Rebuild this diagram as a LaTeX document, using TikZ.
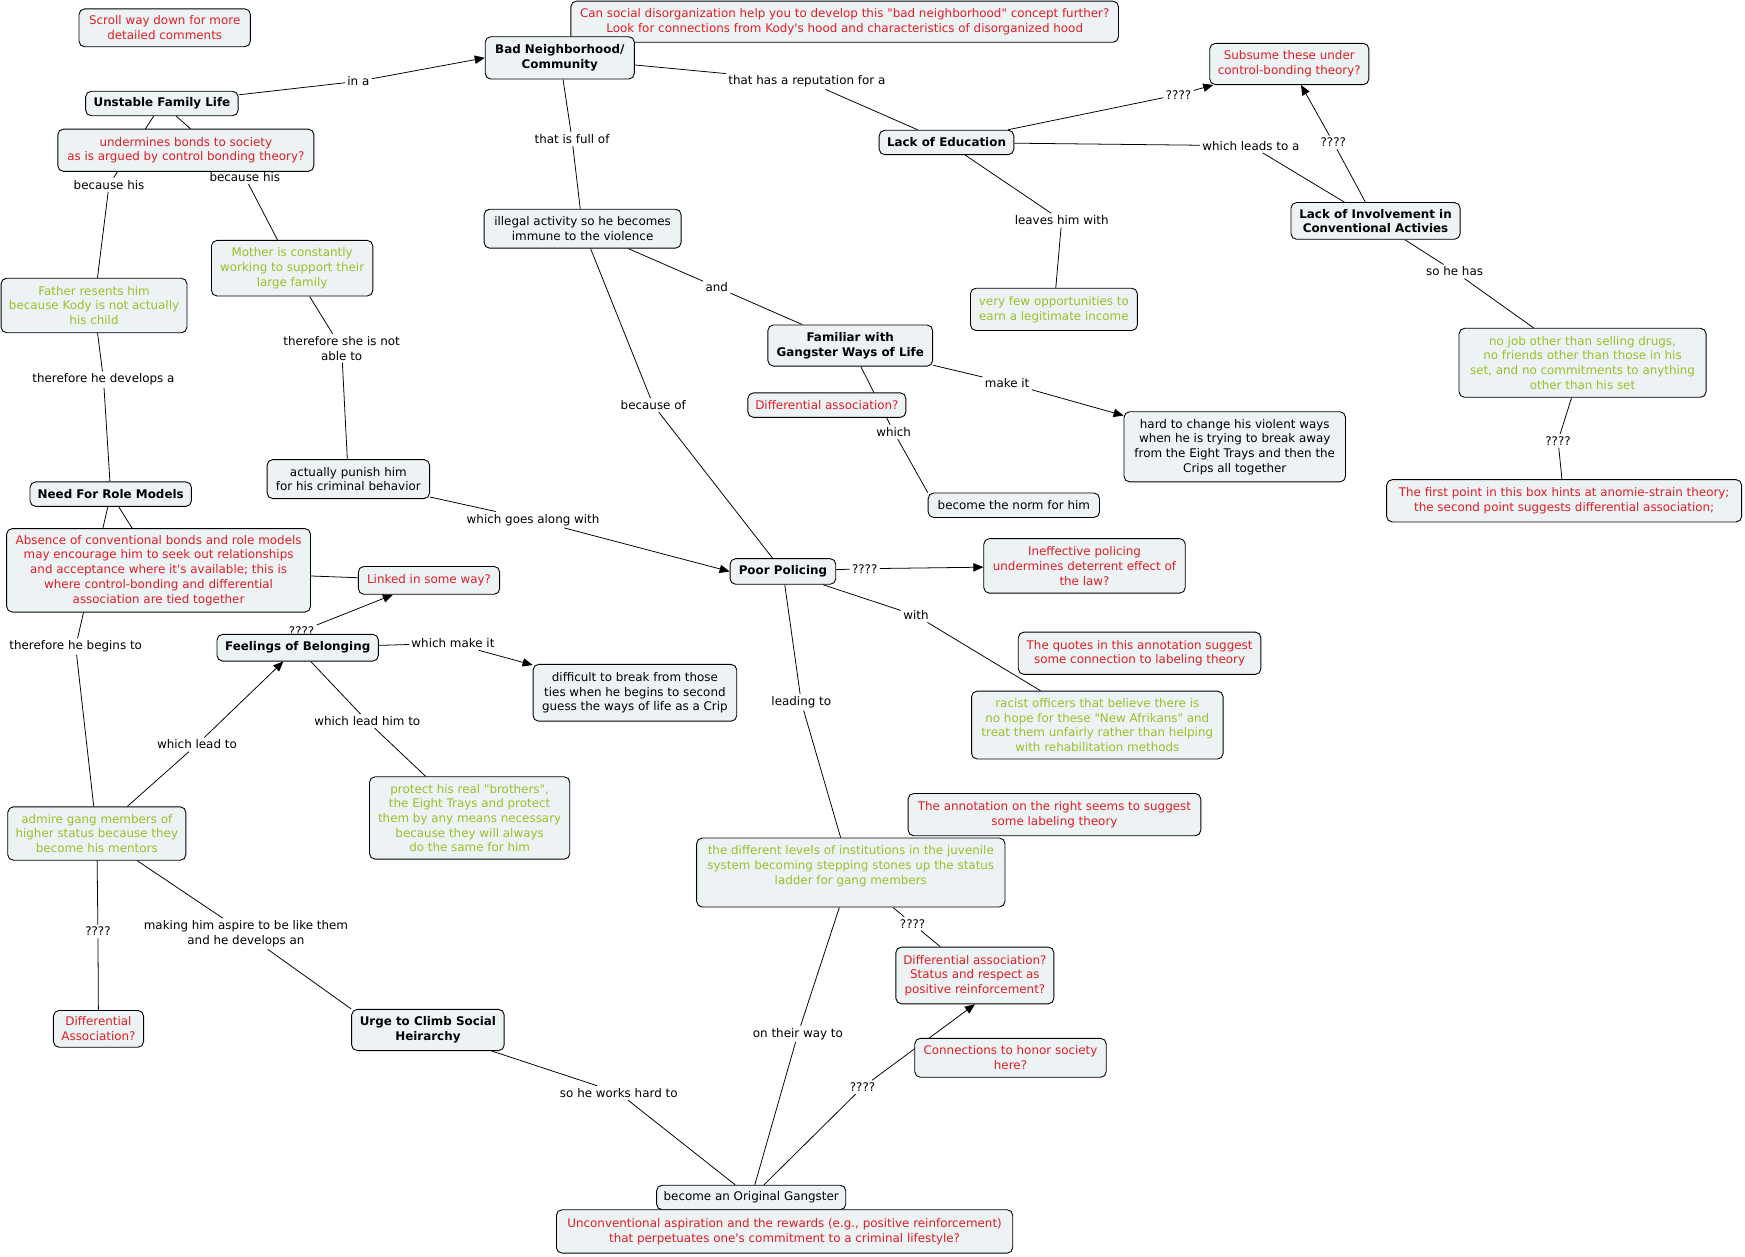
\documentclass[tikz,border=0pt]{standalone}
\usepackage{fontspec}
\setmainfont{DejaVu Sans}
\usetikzlibrary{arrows.meta,backgrounds}
\newcommand\sdq{\XeTeXglyph\XeTeXcharglyph"22\relax}
\newcommand\ssq{\XeTeXglyph\XeTeXcharglyph"27\relax}
\definecolor{boxfill}{RGB}{237,243,245}
\definecolor{cred}{RGB}{222,30,36}
\definecolor{cgreen}{RGB}{150,194,40}
\tikzset{
 cbox/.style={draw=black, line width=0.8pt, fill=boxfill, rounded corners=5pt, align=center, inner xsep=4pt, inner ysep=2pt, font=\fontsize{10.7}{13.2}\selectfont},
 concept/.style={cbox, font=\fontsize{10.7}{13.2}\selectfont\bfseries},
 rednote/.style={cbox, text=cred},
 greennote/.style={cbox, text=cgreen},
 plainbox/.style={cbox},
 lbl/.style={align=center, inner sep=2pt, font=\fontsize{10.7}{13.2}\selectfont},
 conn/.style={draw=black, line width=0.7pt},
 arr/.style={conn, -{Triangle[length=9pt,width=7.5pt]}},
}
\begin{document}
\begin{tikzpicture}[x=1pt,y=-1pt]
\useasboundingbox (0,0) rectangle (1568,1129);
% linking labels
\node[lbl] (l_ina) at (322,73) {in a};
\node[lbl] (l_rep) at (725,73) {that has a reputation for a};
\node[lbl] (l_full) at (514,125) {that is full of};
\node[lbl] (l_q1) at (1059,85) {????};
\node[lbl] (l_leads) at (1124,131) {which leads to a};
\node[lbl] (l_q2) at (1198,128) {????};
\node[lbl] (l_leaves) at (954,198) {leaves him with};
\node[lbl] (l_sohas) at (1307,244) {so he has};
\node[lbl] (l_q3) at (1400,396) {????};
\node[lbl] (l_and) at (644,258) {and};
\node[lbl] (l_becof) at (587,364) {because of};
\node[lbl] (l_make) at (905,344) {make it};
\node[lbl] (l_which) at (803,388) {which};
\node[lbl] (l_goes) at (479,467) {which goes along with};
\node[lbl] (l_q4) at (777,511) {????};
\node[lbl] (l_with) at (823,553) {with};
\node[lbl] (l_leading) at (720,631) {leading to};
\node[lbl] (l_q5) at (820,830) {????};
\node[lbl] (l_onway) at (717,929) {on their way to};
\node[lbl] (l_works) at (556,982) {so he works hard to};
\node[lbl] (l_q6) at (775,977) {????};
\node[lbl] (l_bech1) at (98,166) {because his};
\node[lbl] (l_bech2) at (220,159) {because his};
\node[lbl] (l_devel) at (93,341) {therefore he develops a};
\node[lbl] (l_notable) at (307,313) {therefore she is not\\able to};
\node[lbl] (l_begins) at (68,581) {therefore he begins to};
\node[lbl] (l_leadto) at (177,669) {which lead to};
\node[lbl] (l_leadhim) at (330,648) {which lead him to};
\node[lbl] (l_makeit) at (407,578) {which make it};
\node[lbl] (l_aspire) at (221,839) {making him aspire to be like them\\and he develops an};
\node[lbl] (l_q7) at (88,837) {????};
\node[lbl] (l_q8) at (271,567) {????};
% boxes
\node[rednote, minimum width=154pt, minimum height=34pt] (scroll) at (148,25) {Scroll way down for more\\detailed comments};
\node[rednote, minimum width=492pt, minimum height=37pt] (qtop) at (759,19.5) {Can social disorganization help you to develop this \sdq bad neighborhood\sdq{} concept further?\\Look for connections from Kody\ssq s hood and characteristics of disorganized hood};
\node[concept, minimum width=134pt, minimum height=38pt] (badn) at (503,52) {Bad Neighborhood/\\Community};
\node[concept, minimum width=137pt, minimum height=22pt] (unstable) at (145.5,93) {Unstable Family Life};
\node[rednote, minimum width=230pt, minimum height=38pt] (undermines) at (167,135) {undermines bonds to society\\as is argued by control bonding theory?};
\node[concept, minimum width=121pt, minimum height=22pt] (lackedu) at (850.5,128) {Lack of Education};
\node[rednote, minimum width=143pt, minimum height=37pt] (subsume) at (1158.5,57.5) {Subsume these under\\control-bonding theory?};
\node[concept, minimum width=152pt, minimum height=33pt] (lackinv) at (1236,198.5) {Lack of Involvement in\\Conventional Activies};
\node[plainbox, minimum width=177pt, minimum height=35pt] (illegal) at (523.5,205.5) {illegal activity so he becomes\\immune to the violence};
\node[greennote, minimum width=145pt, minimum height=50pt] (mother) at (262.5,241) {Mother is constantly\\working to support their\\large family};
\node[greennote, minimum width=167pt, minimum height=49pt] (father) at (84.5,274.5) {Father resents him\\because Kody is not actually\\his child};
\node[greennote, minimum width=150pt, minimum height=38pt] (veryfew) at (947,278) {very few opportunities to\\earn a legitimate income};
\node[concept, minimum width=148pt, minimum height=37pt] (familiar) at (764,310.5) {Familiar with\\Gangster Ways of Life};
\node[greennote, minimum width=222pt, minimum height=62pt] (nojob) at (1422,326) {no job other than selling drugs,\\no friends other than those in his\\set, and no commitments to anything\\other than his set};
\node[rednote, minimum width=142pt, minimum height=22pt] (diffassoc1) at (743,364) {Differential association?};
\node[plainbox, minimum width=199pt, minimum height=63pt] (hardto) at (1109.5,401.5) {hard to change his violent ways\\when he is trying to break away\\from the Eight Trays and then the\\Crips all together};
\node[rednote, minimum width=319pt, minimum height=38pt] (thefirst) at (1405.5,450) {The first point in this box hints at anomie-strain theory;\\the second point suggests differential association;};
\node[plainbox, minimum width=154pt, minimum height=22pt] (norm) at (911,454) {become the norm for him};
\node[plainbox, minimum width=146pt, minimum height=35pt] (punish) at (313,430.5) {actually punish him\\for his criminal behavior};
\node[concept, minimum width=145pt, minimum height=22pt] (needrole) at (99.5,444) {Need For Role Models};
\node[rednote, minimum width=273pt, minimum height=75pt] (absence) at (142.5,512.5) {Absence of conventional bonds and role models\\may encourage him to seek out relationships\\and acceptance where it\ssq s available; this is\\where control-bonding and differential\\association are tied together};
\node[rednote, minimum width=127pt, minimum height=25pt] (linked) at (385.5,521.5) {Linked in some way?};
\node[concept, minimum width=95pt, minimum height=23pt] (poorpol) at (703.5,513.5) {Poor Policing};
\node[rednote, minimum width=181pt, minimum height=49pt] (ineff) at (974.5,508.5) {Ineffective policing\\undermines deterrent effect of\\the law?};
\node[rednote, minimum width=218pt, minimum height=38pt] (quotes) at (1024,587) {The quotes in this annotation suggest\\some connection to labeling theory};
\node[concept, minimum width=145pt, minimum height=24pt] (feelings) at (267.5,582) {Feelings of Belonging};
\node[plainbox, minimum width=183pt, minimum height=51pt] (difficult) at (570.5,622.5) {difficult to break from those\\ties when he begins to second\\guess the ways of life as a Crip};
\node[greennote, minimum width=226pt, minimum height=61pt] (racist) at (986,651.5) {racist officers that believe there is\\no hope for these \sdq New Afrikans\sdq{} and\\treat them unfairly rather than helping\\with rehabilitation methods};
\node[greennote, minimum width=160pt, minimum height=48pt] (admire) at (87,749) {admire gang members of\\higher status because they\\become his mentors};
\node[greennote, minimum width=180pt, minimum height=74pt] (protect) at (422,735) {protect his real \sdq brothers\sdq,\\the Eight Trays and protect\\them by any means necessary\\because they will always\\do the same for him};
\node[rednote, minimum width=263pt, minimum height=38pt] (annotation) at (947.5,732) {The annotation on the right seems to suggest\\some labeling theory};
\node[greennote, minimum width=277pt, minimum height=62pt] (institutions) at (764.5,784) {the different levels of institutions in the juvenile\\system becoming stepping stones up the status\\ladder for gang members\\\mbox{}};
\node[rednote, minimum width=142pt, minimum height=51pt] (diffassoc2) at (876,876.5) {Differential association?\\Status and respect as\\positive reinforcement?};
\node[concept, minimum width=137pt, minimum height=37pt] (urge) at (384.5,925.5) {Urge to Climb Social\\Heirarchy};
\node[rednote, minimum width=81pt, minimum height=33pt] (diffcap) at (88.5,924.5) {Differential\\Association?};
\node[rednote, minimum width=172pt, minimum height=35pt] (connhonor) at (908,950.5) {Connections to honor society\\here?};
\node[plainbox, minimum width=170pt, minimum height=22pt] (becomeog) at (675,1076) {become an Original Gangster};
\node[rednote, minimum width=410pt, minimum height=39pt] (unconv) at (705,1106.5) {Unconventional aspiration and the rewards (e.g., positive reinforcement)\\that perpetuates one\ssq s commitment to a criminal lifestyle?};
% connectors
\begin{pgfonlayer}{background}
\fill[white] (0,0) rectangle (1568,1129);
\draw[conn] (unstable) -- (l_ina); \draw[arr] (l_ina) -- (badn.west);
\draw[conn] (badn) -- (l_rep); \draw[conn] (l_rep) -- (lackedu);
\draw[conn] (badn) -- (l_full); \draw[conn] (l_full) -- (illegal);
\draw[conn] (lackedu) -- (l_q1); \draw[arr] (l_q1) -- (subsume);
\draw[conn] (lackedu) -- (l_leads); \draw[conn] (l_leads) -- (lackinv);
\draw[conn] (lackinv) -- (l_q2); \draw[arr] (l_q2) -- (subsume);
\draw[conn] (lackedu) -- (l_leaves); \draw[conn] (l_leaves) -- (veryfew);
\draw[conn] (lackinv) -- (l_sohas); \draw[conn] (l_sohas) -- (nojob);
\draw[conn] (nojob) -- (l_q3); \draw[conn] (l_q3) -- (thefirst);
\draw[conn] (illegal) -- (l_and); \draw[conn] (l_and) -- (familiar);
\draw[conn] (illegal) -- (l_becof); \draw[conn] (l_becof) -- (poorpol);
\draw[conn] (familiar) -- (l_make); \draw[arr] (l_make) -- (hardto);
\draw[conn] (familiar) -- (l_which); \draw[conn] (l_which) -- (norm.north west);
\draw[conn] (punish) -- (l_goes); \draw[arr] (l_goes) -- (poorpol.west);
\draw[conn] (poorpol) -- (l_q4); \draw[arr] (l_q4) -- (ineff);
\draw[conn] (poorpol) -- (l_with); \draw[conn] (l_with) -- (racist);
\draw[conn] (poorpol) -- (l_leading); \draw[conn] (l_leading) -- (institutions);
\draw[conn] (institutions) -- (l_q5); \draw[conn] (l_q5) -- (diffassoc2);
\draw[conn] (institutions) -- (l_onway); \draw[conn] (l_onway) -- (becomeog);
\draw[conn] (urge) -- (l_works); \draw[conn] (l_works) -- (becomeog);
\draw[conn] (becomeog) -- (l_q6); \draw[arr] (l_q6) -- (diffassoc2.south);
\draw[conn] (unstable) -- (l_bech1); \draw[conn] (l_bech1) -- (father);
\draw[conn] (unstable) -- (l_bech2); \draw[conn] (l_bech2) -- (mother);
\draw[conn] (father) -- (l_devel); \draw[conn] (l_devel) -- (needrole);
\draw[conn] (mother) -- (l_notable); \draw[conn] (l_notable) -- (punish);
\draw[conn] (needrole) -- (l_begins); \draw[conn] (l_begins) -- (admire);
\draw[conn] (needrole) -- (absence);
\draw[conn] (absence) -- (linked);
\draw[conn] (admire) -- (l_leadto); \draw[arr] (l_leadto) -- (feelings);
\draw[conn] (feelings) -- (l_leadhim); \draw[conn] (l_leadhim) -- (protect);
\draw[conn] (feelings) -- (l_makeit); \draw[arr] (l_makeit) -- (difficult);
\draw[conn] (admire) -- (l_aspire); \draw[conn] (l_aspire) -- (urge.north west);
\draw[conn] (admire) -- (l_q7); \draw[conn] (l_q7) -- (diffcap);
\draw[conn] (feelings) -- (l_q8); \draw[arr] (l_q8) -- (linked);
\end{pgfonlayer}
\end{tikzpicture}
\end{document}
